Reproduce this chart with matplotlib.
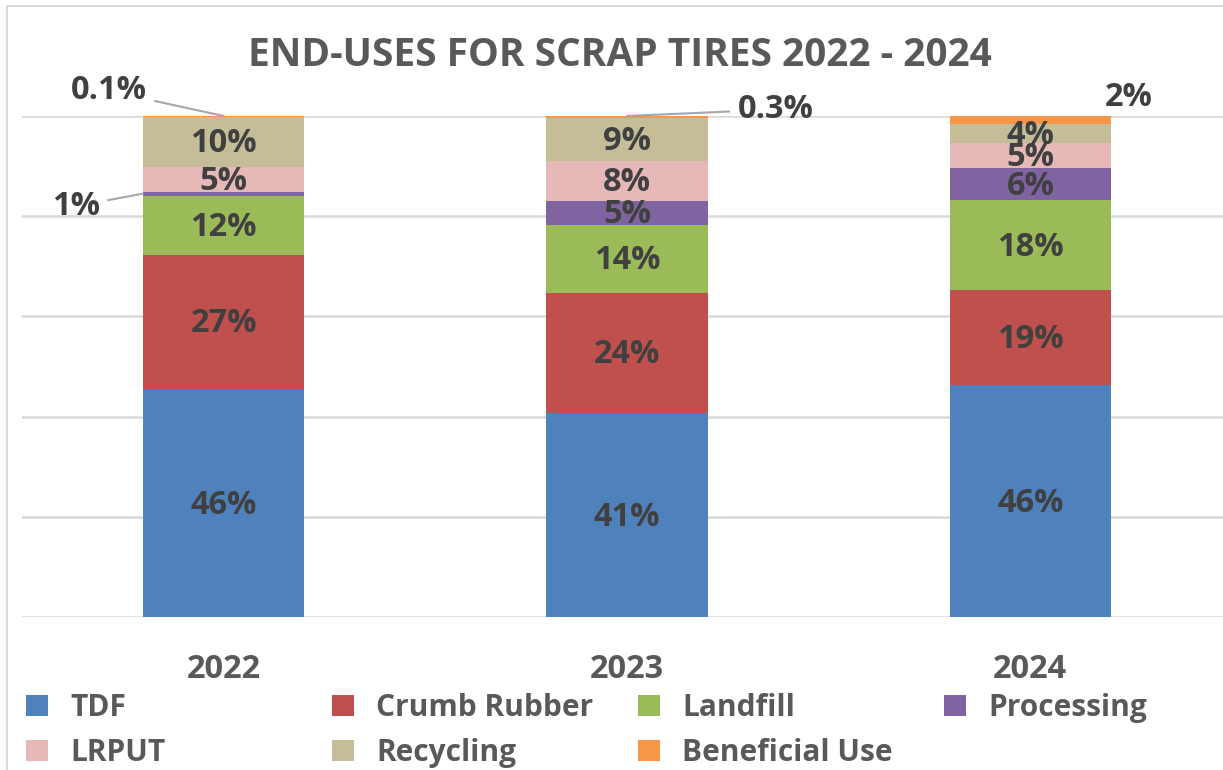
import numpy as np
import matplotlib.pyplot as plt
from matplotlib.patches import Patch, Rectangle

plt.rcParams['font.family'] = ['Open Sans', 'DejaVu Sans']
plt.rcParams['font.weight'] = 'bold'

years = ['2022', '2023', '2024']
series = ['TDF', 'Crumb Rubber', 'Landfill', 'Processing', 'LRPUT', 'Recycling', 'Beneficial Use']
colors = ['#4f81bd', '#c0504d', '#9bbb59', '#8064a2', '#e6b9b8', '#c4bd97', '#f79646']

# percent shares (bottom to top)
tdf = [45.5, 40.7, 46.3]
crumb = [26.8, 24.0, 19.0]
landfill = [11.8, 13.6, 17.9]
processing = [0.8, 4.8, 6.4]
lrput = [5.0, 7.9, 5.0]
recycling = [10.0, 8.7, 3.8]
beneficial = [0.1, 0.3, 1.6]

values = [tdf, crumb, landfill, processing, lrput, recycling, beneficial]

# labels for thin segments sit outside the bar: (series, year) -> text position, leader
outside = {
    (6, 0): ((-0.285, 105.0), True),
    (3, 0): ((-0.367, 82.0), True),
    (6, 1): ((1.368, 101.3), True),
    (6, 2): ((2.243, 103.6), False),
}

fig = plt.figure(figsize=(12.23, 7.7), dpi=100)
ax = fig.add_axes([22/1223, 153/770, 1210/1223, 501/770])

x = np.arange(len(years))
bottom = np.zeros(len(years))
for i, (name, vals) in enumerate(zip(series, values)):
    vals = np.array(vals)
    ax.bar(x, vals, 0.4, bottom=bottom, color=colors[i], label=name, zorder=3)
    for j, v in enumerate(vals):
        txt = f'{v:.1f}%' if v < 0.5 else f'{v:.0f}%'
        if (i, j) in outside:
            pos, leader = outside[(i, j)]
            if i == 3:
                target = (x[j] - 0.2, bottom[j] + v / 2)
            else:
                target = (x[j], bottom[j] + v)
            if leader:
                ax.annotate(txt, xy=target, xytext=pos, ha='center', va='center',
                            fontsize=23.5, color='#404040',
                            arrowprops=dict(arrowstyle='-', color='#a6a6a6', lw=1.5,
                                            shrinkA=4, shrinkB=0))
            else:
                ax.text(pos[0], pos[1], txt, ha='center', va='center',
                        fontsize=23.5, color='#404040')
        else:
            ax.text(x[j], bottom[j] + v / 2 - 0.4, txt, ha='center', va='center',
                    fontsize=23.5, color='#404040', zorder=4)
    bottom += vals

ax.set_xlim(-0.5, 2.5)
ax.set_ylim(0, 100)
ax.set_yticks(np.arange(0, 101, 20))
ax.yaxis.grid(True, color='#d9d9d9', lw=1.8, zorder=0)
ax.set_yticklabels([])
ax.tick_params(axis='y', length=0)
ax.set_xticks(x)
ax.set_xticklabels(years, fontsize=23.5, color='#595959')
ax.tick_params(axis='x', length=0, pad=26)
for s in ax.spines.values():
    s.set_visible(False)

fig.text(620/1223, 1 - 56/770, 'END-USES FOR SCRAP TIRES 2022 - 2024', ha='center', va='center',
         fontsize=28, color='#595959')

# legend laid out in four evenly spaced columns
col_x = [26, 332, 638, 944]
for c in range(4):
    idx = [k for k in (c, c + 4) if k < len(series)]
    handles = [Patch(facecolor=colors[k]) for k in idx]
    fig.legend(handles, [series[k] for k in idx], loc='upper left',
               bbox_to_anchor=(col_x[c]/1223, 1 - 693/770), frameon=False,
               fontsize=21.5, labelcolor='#595959', handlelength=0.72, handleheight=0.72,
               handletextpad=0.75, labelspacing=0.5, borderaxespad=0, borderpad=0)

fig.add_artist(Rectangle((7/1223, -0.1), 1.2, 1.1 - 6/770, transform=fig.transFigure,
                         fill=False, edgecolor='#d9d9d9', lw=1.5))

fig.savefig('out.png', dpi=100)
